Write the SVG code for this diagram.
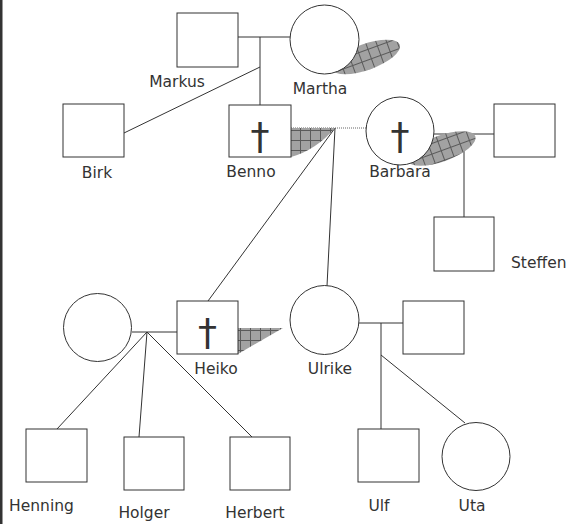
<svg xmlns="http://www.w3.org/2000/svg" width="569" height="524" viewBox="0 0 569 524">
<style>
.n{fill:#fff;stroke:#333;stroke-width:1}
.c{fill:none;stroke:#333;stroke-width:1}
.d{fill:none;stroke:#666;stroke-width:1;stroke-dasharray:1 1}
.l{font-family:"DejaVu Sans",Verdana,sans-serif;font-size:15.5px;fill:#333;text-anchor:middle}
.x{font-family:"DejaVu Sans",Verdana,sans-serif;font-size:38px;fill:#333;text-anchor:middle}
.s{fill:url(#hatch);stroke:none}
</style>
<defs>
<pattern id="hatch" patternUnits="userSpaceOnUse" width="10" height="10">
<rect width="10" height="10" fill="#a2a2a2"/>
<path d="M0,0.5H10M0.5,0V10" stroke="#5a5a5a" stroke-width="1"/>
</pattern>
</defs>
<rect x="0" y="0" width="2.5" height="524" fill="#333"/>
<g id="connectors">
<path class="c" d="M238,37H290"/>
<path class="c" d="M260,37V105"/>
<path class="c" d="M124,133L260,67"/>
<path class="d" d="M291,128H366"/>
<path class="c" d="M335,128L208,301"/>
<path class="c" d="M335,128L327,286"/>
<path class="c" d="M434,134H494"/>
<path class="c" d="M464,134V217"/>
<path class="c" d="M132,332H177"/>
<path class="c" d="M147,332L57,429"/>
<path class="c" d="M147,332L139,437"/>
<path class="c" d="M147,332L252,437"/>
<path class="c" d="M359,323H403"/>
<path class="c" d="M381,323V429"/>
<path class="c" d="M381,355L465,423"/>
</g>
<g id="shadows">
<ellipse class="s" cx="366" cy="57" rx="36" ry="13" transform="rotate(-20 366 57)"/>
<ellipse class="s" cx="441.5" cy="148.5" rx="36" ry="13" transform="rotate(-20 441.5 148.5)"/>
<path class="s" d="M291,128H335Q316,150 291,157Z"/>
<path class="s" d="M238,328H283L238,354Z"/>
</g>
<g id="markus"><rect class="n" x="177" y="13" width="61" height="54"/><text class="l" x="177" y="87">Markus</text></g>
<g id="martha"><circle class="n" cx="324.5" cy="39.5" r="34.5"/><text class="l" x="320" y="94">Martha</text></g>
<g id="birk"><rect class="n" x="63" y="104" width="61" height="53"/><text class="l" x="97" y="178">Birk</text></g>
<g id="benno"><rect class="n" x="229" y="105" width="62" height="52"/><text class="x" x="260" y="149">†</text><text class="l" x="251" y="177">Benno</text></g>
<g id="barbara"><circle class="n" cx="400" cy="131" r="34"/><text class="x" x="400" y="149">†</text><text class="l" x="400" y="177">Barbara</text></g>
<g id="barbara-spouse"><rect class="n" x="494" y="104" width="61" height="53"/></g>
<g id="steffen"><rect class="n" x="434" y="217" width="60" height="54"/><text class="l" x="511" y="268" style="text-anchor:start">Steffen</text></g>
<g id="heiko-spouse"><circle class="n" cx="97.5" cy="327.5" r="34"/></g>
<g id="heiko"><rect class="n" x="177" y="301" width="61" height="53"/><text class="x" x="207.5" y="345">†</text><text class="l" x="216" y="374">Heiko</text></g>
<g id="ulrike"><circle class="n" cx="324.5" cy="320" r="34.5"/><text class="l" x="330" y="374">Ulrike</text></g>
<g id="ulrike-spouse"><rect class="n" x="403" y="301" width="61" height="53"/></g>
<g id="henning"><rect class="n" x="26" y="429" width="61" height="53"/><text class="l" x="41.5" y="511">Henning</text></g>
<g id="holger"><rect class="n" x="124" y="437" width="60" height="53"/><text class="l" x="144" y="518">Holger</text></g>
<g id="herbert"><rect class="n" x="230" y="437" width="60" height="53"/><text class="l" x="255" y="518">Herbert</text></g>
<g id="ulf"><rect class="n" x="358" y="429" width="61" height="53"/><text class="l" x="379" y="511">Ulf</text></g>
<g id="uta"><circle class="n" cx="476" cy="456.5" r="34"/><text class="l" x="472" y="511">Uta</text></g>
</svg>
